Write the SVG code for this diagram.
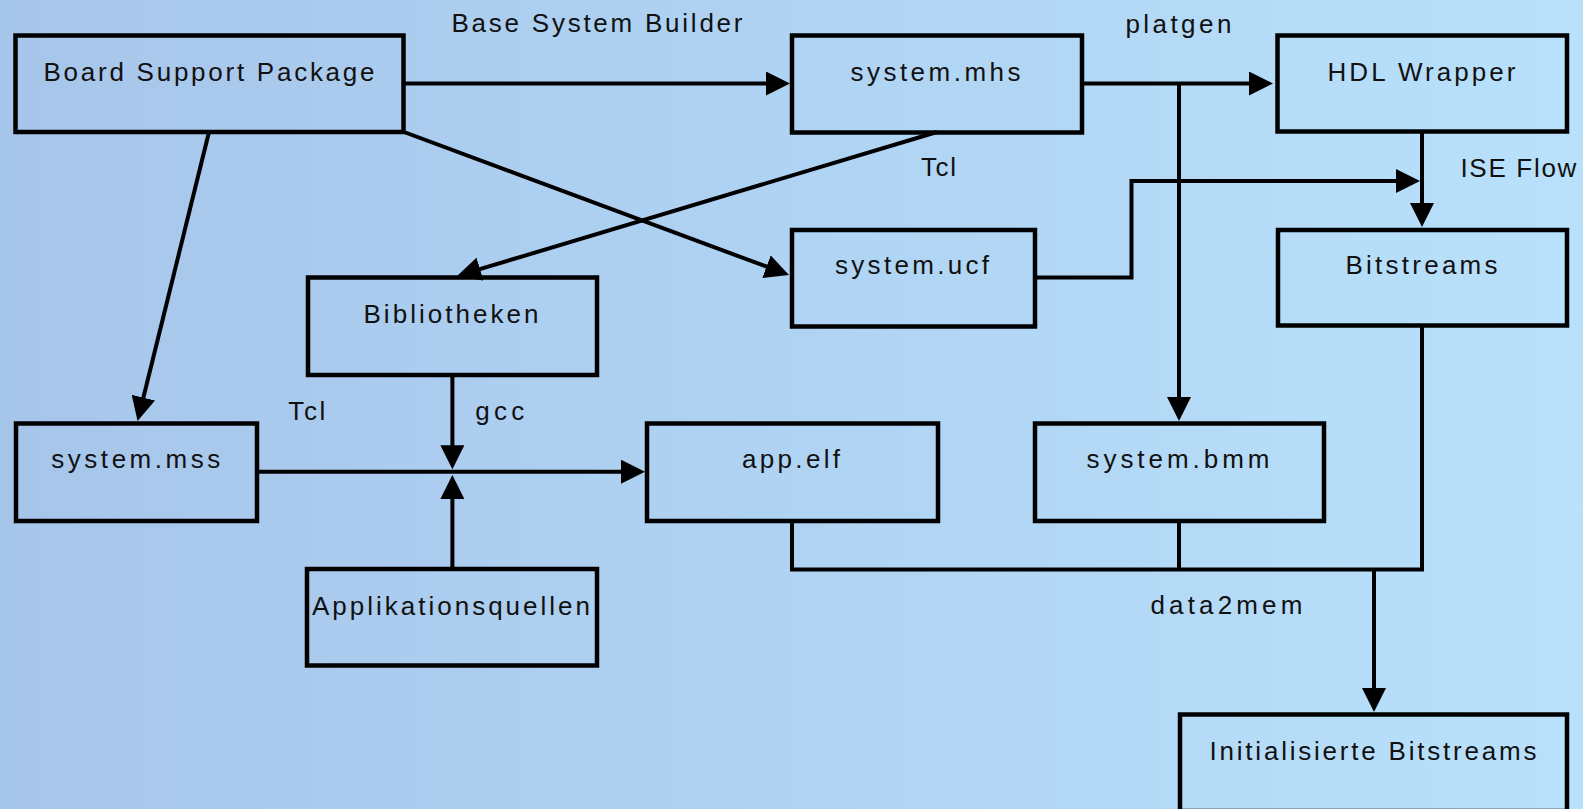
<svg xmlns="http://www.w3.org/2000/svg" width="1583" height="809" viewBox="0 0 1583 809">
<defs>
<linearGradient id="bg" x1="0" y1="0" x2="1" y2="0">
<stop offset="0" stop-color="#a6c5ea"/>
<stop offset="1" stop-color="#b9e1fb"/>
</linearGradient>
<marker id="arr" viewBox="0 0 24 24" refX="16" refY="12" markerWidth="24" markerHeight="24" markerUnits="userSpaceOnUse" orient="auto">
<path d="M0,0 L24,12 L0,24 z" fill="#000"/>
</marker>
</defs>
<style>
.box{fill:none;stroke:#000;stroke-width:4.5;stroke-linejoin:miter}
.lbl{font-family:"Liberation Sans",Arial,sans-serif;font-size:26px;fill:#111;text-anchor:middle}
.c{fill:none;stroke:#000;stroke-width:4;stroke-linejoin:miter}
.a{marker-end:url(#arr)}
</style>
<rect x="0" y="0" width="1583" height="809" fill="url(#bg)"/>

<g id="connectors">
<path class="c a" d="M404,83.5 H782"/>
<path class="c a" d="M1082,83.5 H1265"/>
<path class="c a" d="M1179,83.5 V413"/>
<path class="c a" d="M1422,131 V219"/>
<path class="c a" d="M1035,277.5 H1131.5 V181 H1412"/>
<path class="c a" d="M404,132 L781.5,272.2"/>
<path class="c a" d="M937,132 L464.7,273.7"/>
<path class="c a" d="M209,132 L139.5,413.2"/>
<path class="c a" d="M452.4,375 V461.3"/>
<path class="c a" d="M257,471.7 H637"/>
<path class="c a" d="M452.4,569 V483"/>
<path class="c" d="M792,521 V569.5 H1422 V325.5"/>
<path class="c" d="M1179,521 V569.5"/>
<path class="c a" d="M1374,569.5 V704"/>
</g>

<g id="edge-labels">
<text class="lbl" x="597" y="32" textLength="291" lengthAdjust="spacing">Base System Builder</text>
<text class="lbl" x="1178.4" y="32.5" textLength="106" lengthAdjust="spacing">platgen</text>
<text class="lbl" x="938.5" y="176" textLength="35" lengthAdjust="spacing">Tcl</text>
<text class="lbl" x="1518.4" y="176.7" textLength="116" lengthAdjust="spacing">ISE Flow</text>
<text class="lbl" x="306.8" y="420" textLength="37" lengthAdjust="spacing">Tcl</text>
<text class="lbl" x="499.7" y="420" textLength="49" lengthAdjust="spacing">gcc</text>
<text class="lbl" x="1226.4" y="613.5" textLength="152" lengthAdjust="spacing">data2mem</text>
</g>

<g id="bsp">
<rect class="box" x="15.5" y="35.5" width="388" height="96.5"/>
<text class="lbl" x="209" y="81" textLength="331" lengthAdjust="spacing">Board Support Package</text>
</g>
<g id="mhs">
<rect class="box" x="792" y="35.5" width="290" height="97"/>
<text class="lbl" x="935.5" y="81" textLength="170" lengthAdjust="spacing">system.mhs</text>
</g>
<g id="hdl">
<rect class="box" x="1277.5" y="35.5" width="289.5" height="96"/>
<text class="lbl" x="1421.5" y="81" textLength="188" lengthAdjust="spacing">HDL Wrapper</text>
</g>
<g id="bitstreams">
<rect class="box" x="1278" y="230" width="289" height="95.5"/>
<text class="lbl" x="1421.5" y="273.5" textLength="152" lengthAdjust="spacing">Bitstreams</text>
</g>
<g id="ucf">
<rect class="box" x="792" y="230" width="243" height="96.5"/>
<text class="lbl" x="912" y="273.5" textLength="154" lengthAdjust="spacing">system.ucf</text>
</g>
<g id="bibliotheken">
<rect class="box" x="308" y="277.5" width="289" height="97.5"/>
<text class="lbl" x="451" y="323" textLength="175" lengthAdjust="spacing">Bibliotheken</text>
</g>
<g id="mss">
<rect class="box" x="16" y="423.5" width="241" height="97.5"/>
<text class="lbl" x="135.8" y="467.5" textLength="169" lengthAdjust="spacing">system.mss</text>
</g>
<g id="appelf">
<rect class="box" x="647" y="423.5" width="291" height="97.5"/>
<text class="lbl" x="791" y="468" textLength="98" lengthAdjust="spacing">app.elf</text>
</g>
<g id="bmm">
<rect class="box" x="1035" y="423.5" width="289" height="97.5"/>
<text class="lbl" x="1178" y="468" textLength="183" lengthAdjust="spacing">system.bmm</text>
</g>
<g id="appsrc">
<rect class="box" x="307" y="569" width="290" height="96.5"/>
<text class="lbl" x="451" y="614.5" textLength="278" lengthAdjust="spacing">Applikationsquellen</text>
</g>
<g id="init">
<rect class="box" x="1180" y="714.5" width="387" height="96.5"/>
<text class="lbl" x="1373" y="760" textLength="327" lengthAdjust="spacing">Initialisierte Bitstreams</text>
</g>
</svg>
